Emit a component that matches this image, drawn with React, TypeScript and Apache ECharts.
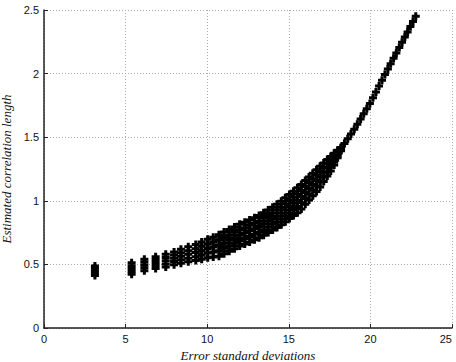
import React, { useEffect, useRef } from "react";
import * as echarts from "echarts";

const xTicks = [0, 5, 10, 15, 20, 25];
const yTicks = [0, 0.5, 1, 1.5, 2, 2.5];

const xCols = [3.12, 5.37, 6.15, 6.84, 7.46, 7.97, 8.39, 8.84, 9.30, 9.66, 10.03, 10.37, 10.72,
  11.03, 11.35, 11.67, 11.99, 12.30, 12.60, 12.90, 13.18, 13.46, 13.74, 14.01, 14.28, 14.54, 14.79,
  15.04, 15.29, 15.53, 15.77, 16.01, 16.24, 16.47, 16.70, 16.92, 17.14, 17.36, 17.57, 17.78, 17.99, 18.20,
  18.41, 18.61, 18.81, 19.01, 19.20, 19.40, 19.59, 19.78, 19.97, 20.16, 20.34, 20.53, 20.71, 20.89,
  21.07, 21.24, 21.42, 21.59, 21.77, 21.94, 22.11, 22.28, 22.45, 22.61, 22.78];

const curve0 = [0.412, 0.422, 0.451, 0.467, 0.479, 0.498, 0.509, 0.520, 0.530, 0.540, 0.553, 0.559, 0.564,
  0.584, 0.604, 0.624, 0.645, 0.661, 0.677, 0.694, 0.709, 0.729, 0.750, 0.770, 0.790, 0.812, 0.836,
  0.860, 0.884, 0.907, 0.936, 0.972, 1.006, 1.040, 1.074, 1.108, 1.151, 1.194, 1.235, 1.282, 1.338, 1.394];
const curve1 = [0.431, 0.444, 0.473, 0.491, 0.504, 0.523, 0.536, 0.549, 0.561, 0.574, 0.589, 0.598, 0.607,
  0.627, 0.647, 0.667, 0.688, 0.704, 0.720, 0.737, 0.753, 0.773, 0.795, 0.815, 0.836, 0.858, 0.883,
  0.907, 0.932, 0.956, 0.984, 1.019, 1.052, 1.084, 1.117, 1.149, 1.188, 1.227, 1.264, 1.305, 1.353, 1.400];
const curve2 = [0.450, 0.467, 0.496, 0.514, 0.529, 0.548, 0.564, 0.579, 0.593, 0.608, 0.625, 0.636, 0.649,
  0.669, 0.689, 0.709, 0.730, 0.747, 0.764, 0.781, 0.797, 0.818, 0.839, 0.860, 0.881, 0.904, 0.930,
  0.955, 0.980, 1.005, 1.033, 1.066, 1.097, 1.129, 1.160, 1.190, 1.225, 1.259, 1.292, 1.328, 1.368, 1.407];
const curve3 = [0.469, 0.489, 0.518, 0.538, 0.554, 0.573, 0.591, 0.608, 0.624, 0.643, 0.661, 0.675, 0.692,
  0.712, 0.732, 0.752, 0.773, 0.789, 0.807, 0.824, 0.840, 0.862, 0.884, 0.905, 0.927, 0.950, 0.976,
  1.002, 1.028, 1.053, 1.081, 1.112, 1.143, 1.173, 1.202, 1.231, 1.261, 1.292, 1.321, 1.350, 1.382, 1.413];
const curve4 = [0.488, 0.512, 0.540, 0.561, 0.579, 0.598, 0.619, 0.638, 0.656, 0.677, 0.697, 0.713, 0.734,
  0.754, 0.774, 0.794, 0.815, 0.832, 0.850, 0.867, 0.884, 0.906, 0.928, 0.950, 0.972, 0.996, 1.023,
  1.049, 1.076, 1.102, 1.129, 1.159, 1.188, 1.217, 1.245, 1.272, 1.298, 1.324, 1.349, 1.373, 1.397, 1.419,
  1.450, 1.488, 1.525, 1.562, 1.602, 1.644, 1.684, 1.724, 1.764, 1.810, 1.855, 1.903, 1.948, 1.993,
  2.037, 2.078, 2.121, 2.162, 2.205, 2.246, 2.287, 2.328, 2.370, 2.409, 2.450];

const curves = [curve0, curve1, curve2, curve3, curve4];

const PLUS = "path://M2.5,0H5.5V2.5H8V5.5H5.5V8H2.5V5.5H0V2.5H2.5Z";

export default function App() {
  const ref = useRef<HTMLDivElement>(null);
  useEffect(() => {
    const chart = echarts.init(ref.current!, null, { renderer: "svg" });
    const labelFont = { fontFamily: "Liberation Sans, Arial, Helvetica, sans-serif", fontSize: 11, color: "#111" };
    const nameFont = { fontFamily: "Liberation Serif, Times New Roman, serif", fontStyle: "italic" as const, fontSize: 13, color: "#111" };
    const gridLine = { show: true, lineStyle: { color: "#aaa", type: [1, 2] as any, width: 1 } };
    chart.setOption({
      animation: false,
      backgroundColor: "#fff",
      grid: { left: 44, right: 4, top: 10, bottom: 34, containLabel: false, outerBoundsMode: "none" },
      xAxis: {
        type: "value",
        min: xTicks[0],
        max: xTicks[xTicks.length - 1],
        interval: 5,
        name: "Error standard deviations",
        nameLocation: "middle",
        nameGap: 16,
        nameTextStyle: nameFont,
        axisLine: { show: true, onZero: false, lineStyle: { color: "#222", width: 1.5 } },
        axisTick: { show: true, inside: true, length: 4, lineStyle: { color: "#222" } },
        axisLabel: { ...labelFont, margin: 5, alignMaxLabel: "right" },
        splitLine: gridLine,
      },
      yAxis: {
        type: "value",
        min: yTicks[0],
        max: yTicks[yTicks.length - 1],
        interval: 0.5,
        name: "Estimated correlation length",
        nameLocation: "middle",
        nameGap: 28,
        nameTextStyle: nameFont,
        axisLine: { show: true, onZero: false, lineStyle: { color: "#222", width: 1.5 } },
        axisTick: { show: true, inside: true, length: 4, lineStyle: { color: "#222" } },
        axisLabel: { ...labelFont, margin: 5 },
        splitLine: gridLine,
      },
      series: curves.map((ys, k) => ({
        type: "scatter",
        name: "c" + k,
        symbol: PLUS,
        symbolSize: 8,
        itemStyle: { color: "#000", opacity: 1 },
        data: ys.map((y, i) => [xCols[i], y]),
      })),
    });
    return () => chart.dispose();
  }, []);
  return <div ref={ref} style={{ position: "fixed", left: 0, top: 0, width: 456, height: 362 }} />;
}
